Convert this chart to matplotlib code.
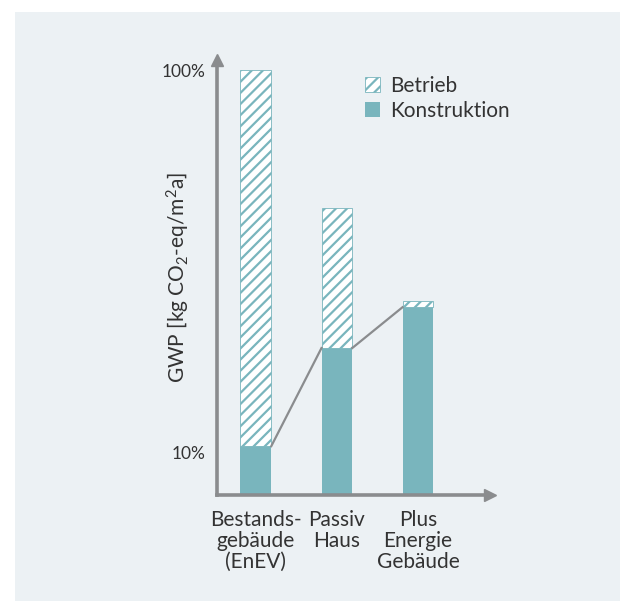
import matplotlib.pyplot as plt
from matplotlib.patches import Patch

plt.rcParams['font.family'] = ['Lato', 'DejaVu Sans']
plt.rcParams['mathtext.fontset'] = 'custom'
plt.rcParams['mathtext.rm'] = 'Lato'
plt.rcParams['mathtext.it'] = 'Lato:italic'
plt.rcParams['hatch.linewidth'] = 1.6

# data (percent of the existing building's total GWP)
categories = ['Bestands-\ngebäude\n(EnEV)', 'Passiv\nHaus', 'Plus\nEnergie\nGebäude']
konstruktion = [11.5, 34.6, 44.2]
betrieb = [88.5, 32.9, 1.4]
ytick_vals = [10, 100]
ytick_labels = ['10%', '100%']

teal = '#79b5bd'
grey = '#8a8c8e'
text_col = '#333333'

fig = plt.figure(figsize=(6.2, 6.01), dpi=100)
fig.patch.set_facecolor('white')

# light panel behind the chart
bg = fig.add_axes([15 / 620, 0, 1 - 15 / 620, (601 - 12) / 601], zorder=-1)
bg.set_facecolor('#ecf1f4')
bg.set_xticks([])
bg.set_yticks([])
for s in bg.spines.values():
    s.set_visible(False)

ax = fig.add_axes([217 / 620, 106 / 601, 273 / 620, 435 / 601])
ax.set_facecolor('none')

x = list(range(len(categories)))
w = 0.38
ax.bar(x, konstruktion, width=w, color=teal, edgecolor='none', zorder=2)
ax.bar(x, betrieb, width=w, bottom=konstruktion, color='white',
       edgecolor=teal, hatch='///', linewidth=0.6, zorder=2)

# connecting line between the construction tops
for i in range(len(x) - 1):
    ax.plot([x[i] + w / 2, x[i + 1] - w / 2], [konstruktion[i], konstruktion[i + 1]],
            color=grey, lw=1.6, zorder=3)

ax.set_xlim(-0.48, 2.89)
ax.set_ylim(0, 102.4)

for s in ['top', 'right']:
    ax.spines[s].set_visible(False)
for s in ['left', 'bottom']:
    ax.spines[s].set_color(grey)
    ax.spines[s].set_linewidth(2.6)
ax.plot(0, 1, '^', color=grey, ms=9, transform=ax.transAxes, clip_on=False)
ax.plot(1, 0, '>', color=grey, ms=9, transform=ax.transAxes, clip_on=False)

ax.set_yticks(ytick_vals)
ax.set_yticklabels(ytick_labels, fontsize=12.5, color=text_col)
ax.set_xticks(x)
ax.set_xticklabels(categories, fontsize=15, color=text_col, linespacing=1.05)
ax.tick_params(length=0)
ax.tick_params(axis='y', pad=8)
ax.tick_params(axis='x', pad=11)

ax.set_ylabel('GWP [kg CO$_2$-eq/m$^2$a]', fontsize=15, color=text_col)
ax.yaxis.set_label_coords(-0.09, 0.5)

handles = [Patch(facecolor='white', edgecolor=teal, hatch='///', linewidth=0.6, label='Betrieb'),
           Patch(facecolor=teal, edgecolor='none', label='Konstruktion')]
ax.legend(handles=handles, loc='upper left', bbox_to_anchor=(0.475, 1.007),
          frameon=False, fontsize=15, handlelength=0.7, handleheight=0.7,
          handletextpad=0.5, labelspacing=0.25, labelcolor=text_col)

fig.savefig('out.png', dpi=100)
